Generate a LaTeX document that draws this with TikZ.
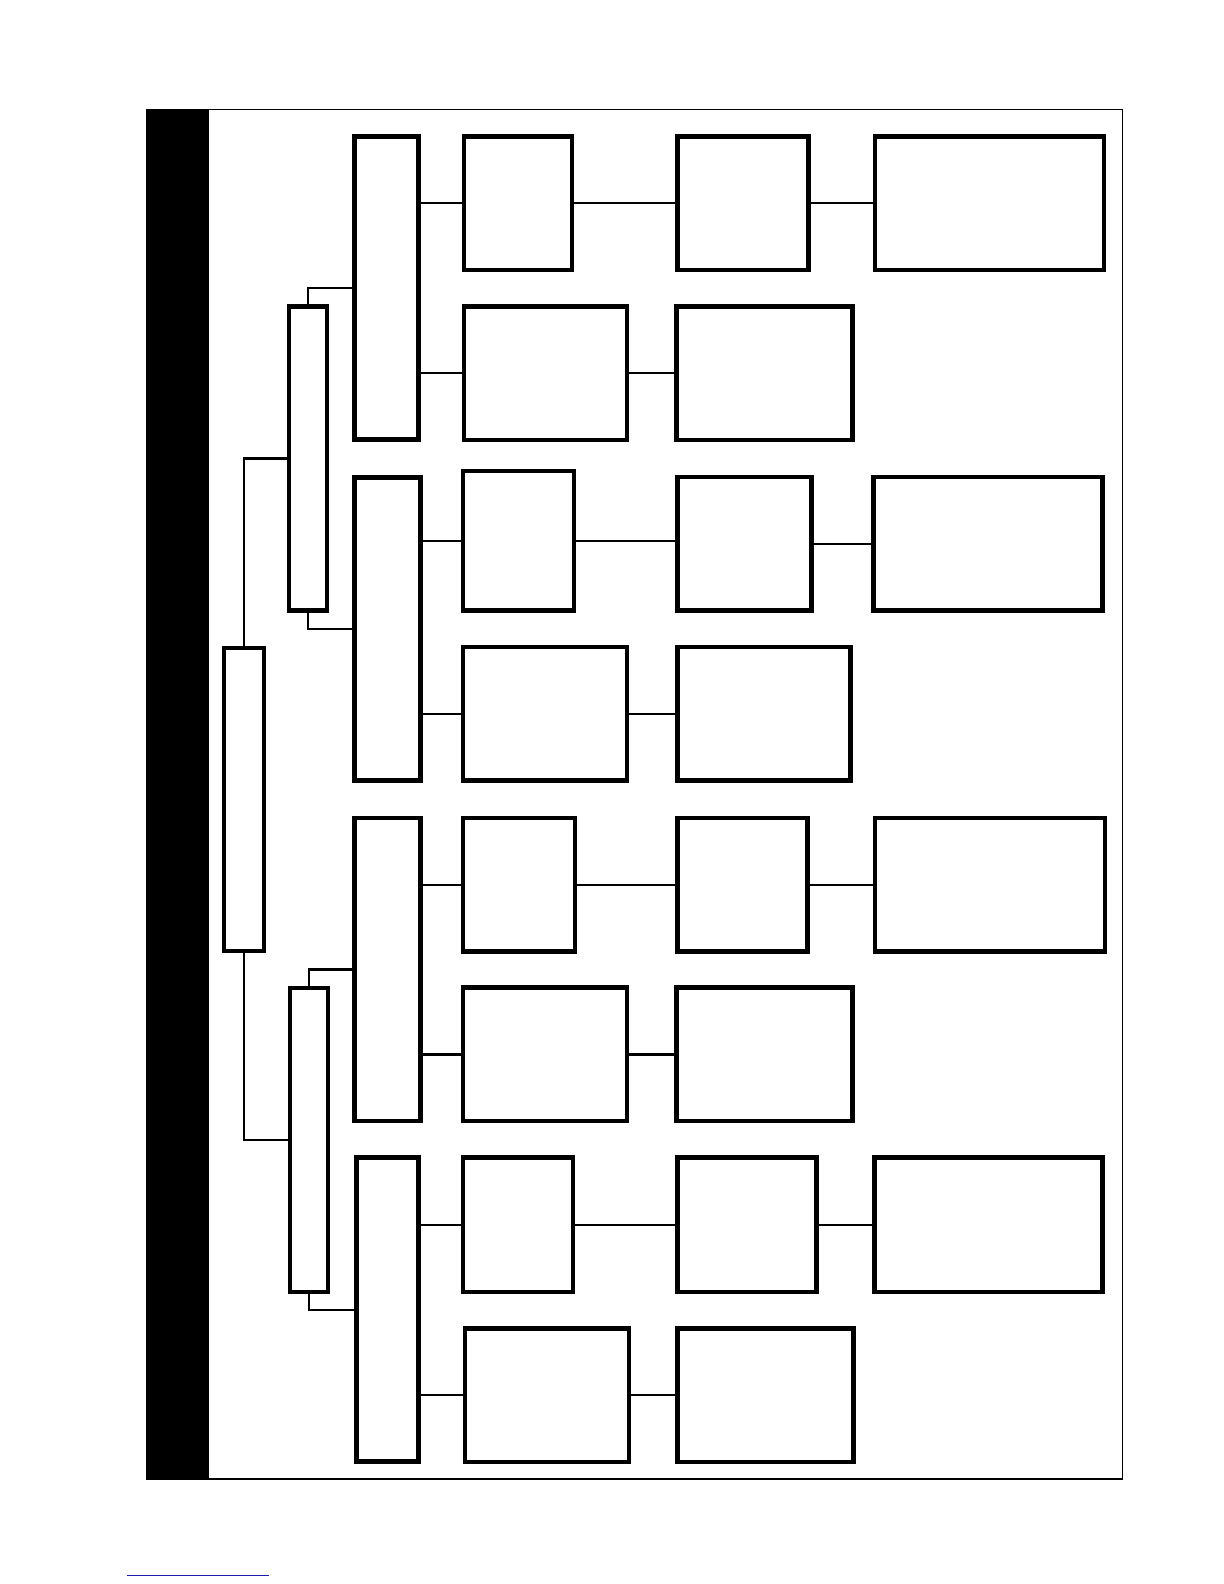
\documentclass[tikz,border=0pt]{standalone}
\usepackage{tikz}
\usetikzlibrary{positioning,calc}

\begin{document}
\begin{tikzpicture}[x=1.011pt, y=-1.011pt]
    % Define styles for boxes and links
    \tikzstyle{box} = [rectangle, draw=black, line width=4.5pt, inner sep=0pt, outer sep=0pt]
    \tikzstyle{link} = [draw=black, line width=2.2pt]
    \tikzset{tall/.style={box, minimum height=303pt},
        small/.style={box, minimum height=133.5pt}}
    % Frame and side bar
    \fill[black] (145,108) rectangle (207,1463);
    \draw[line width=1.2pt] (145,108) rectangle (1110,1463);
    % Root and second level
    \node (root) [tall, minimum width=40pt] at (241.5,791) {};
    \node (up) [tall, minimum width=38pt, minimum height=304pt] at (304.5,453.5) {};
    \node (lo) [tall, minimum width=38pt, minimum height=304pt] at (305.5,1127.5) {};
    % Third level
    \node (A) [tall, minimum width=64pt] at (382.5,285) {};
    \node (B) [tall, minimum width=66pt] at (383.5,622) {};
    \node (C) [tall, minimum width=66pt] at (383.5,959) {};
    \node (D) [tall, minimum width=62pt, minimum height=304pt] at (383.5,1295.5) {};
    % Fourth level
    \node (A1) [small, minimum width=108pt] at (512.5,201) {};
    \node (A2) [small, minimum width=163pt] at (539.5,369) {};
    \node (B1) [small, minimum width=111pt, minimum height=139.5pt] at (513,535) {};
    \node (B2) [small, minimum width=164pt] at (539,706) {};
    \node (C1) [small, minimum width=112pt] at (513.5,875) {};
    \node (C2) [small, minimum width=164pt] at (539,1043) {};
    \node (D1) [small, minimum width=110pt, minimum height=134.5pt] at (512.5,1211.5) {};
    \node (D2) [small, minimum width=164pt] at (541,1380) {};
    % Fifth level
    \node (A1b) [small, minimum width=131pt] at (735,201) {};
    \node (A2b) [small, minimum width=176pt] at (756,369) {};
    \node (B1b) [small, minimum width=134pt] at (736.5,538) {};
    \node (B2b) [small, minimum width=173pt] at (755.5,706) {};
    \node (C1b) [small, minimum width=130pt] at (734.5,875) {};
    \node (C2b) [small, minimum width=176pt] at (756,1043) {};
    \node (D1b) [small, minimum width=139pt, minimum height=134.5pt] at (739,1211.5) {};
    \node (D2b) [small, minimum width=176pt] at (757,1380) {};
    % Sixth level
    \node (A1c) [small, minimum width=229pt] at (978.5,201) {};
    \node (B1c) [small, minimum width=229pt] at (977.5,538) {};
    \node (C1c) [small, minimum width=230pt] at (979,875) {};
    \node (D1c) [small, minimum width=228pt, minimum height=134.5pt] at (978,1211.5) {};
    % Elbow links
    \draw [link] (root.north) |- (up.west);
    \draw [link] (root.south) |- (lo.west);
    \draw [link] (up.north) |- (A.west);
    \draw [link] (up.south) |- (B.west);
    \draw [link] (lo.north) |- (C.west);
    \draw [link] (lo.south) |- (D.west);
    % Straight links
    \foreach \g in {A,B,C,D}{
        \draw [link] (\g.east |- \g1.west) -- (\g1.west);
        \draw [link] (\g.east |- \g2.west) -- (\g2.west);
        \draw [link] (\g1.east) -- (\g1.east -| \g1b.west);
        \draw [link] (\g2.east) -- (\g2.east -| \g2b.west);
        \draw [link] (\g1b.east) -- (\g1c.west);
    }
    % Underline at the foot
    \draw [draw={rgb,255:red,30;green,30;blue,170}, line width=1.5pt] (125.3,1558.2) -- (266,1558.2);
    % Page size
    \pgfresetboundingbox
    \useasboundingbox (0,0) rectangle (1210.7,1566.8);
\end{tikzpicture}
\end{document}
